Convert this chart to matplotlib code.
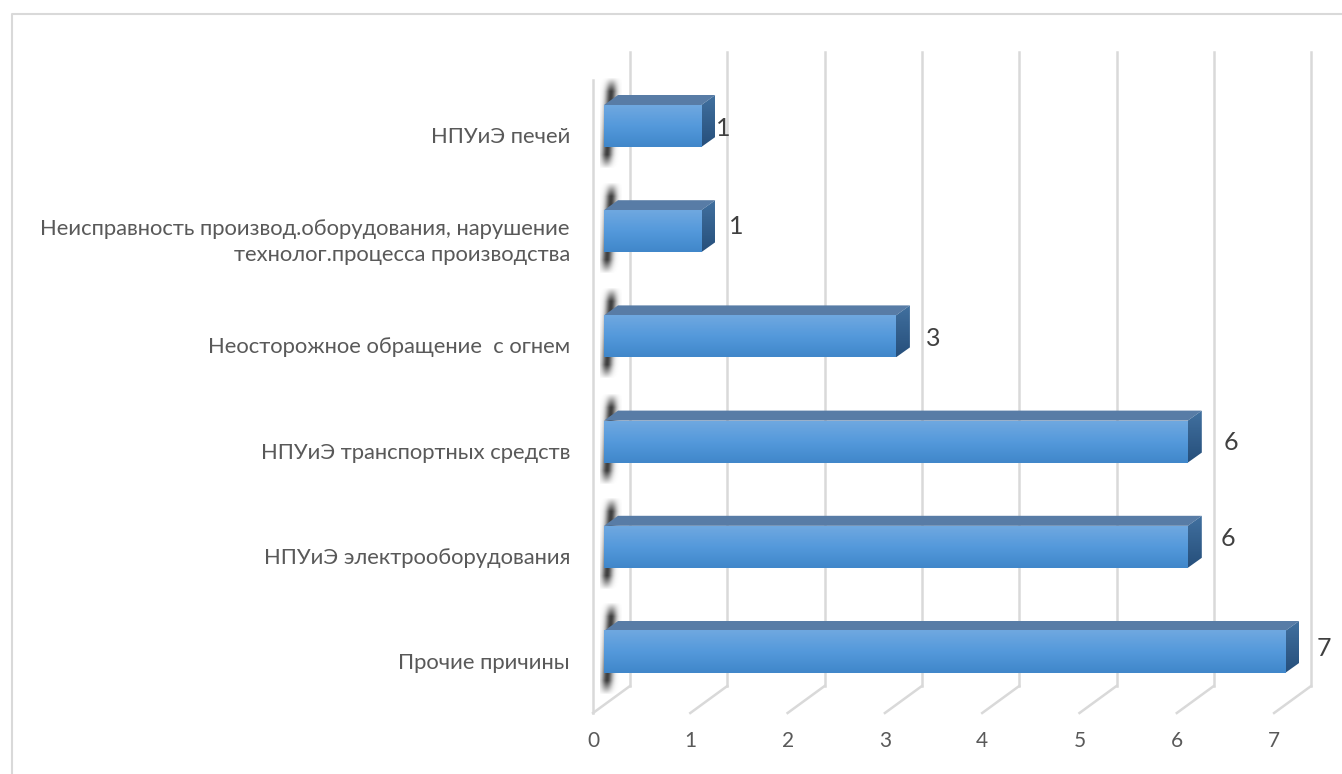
import numpy as np
import matplotlib.pyplot as plt
from matplotlib.colors import LinearSegmentedColormap
from matplotlib.patches import Polygon
from matplotlib.lines import Line2D

plt.rcParams['font.family'] = ['Lato', 'Open Sans', 'DejaVu Sans']

# Данные
categories = ['Прочие причины',
              'НПУиЭ электрооборудования',
              'НПУиЭ транспортных средств',
              'Неосторожное обращение  с огнем',
              'Неисправность производ.оборудования, нарушение\nтехнолог.процесса производства',
              'НПУиЭ печей']
values = [7, 6, 6, 3, 1, 1]
x_ticks = [0, 1, 2, 3, 4, 5, 6, 7]

W, H = 1342, 774
fig = plt.figure(figsize=(W / 100, H / 100), dpi=100)
ax = fig.add_axes([0, 0, 1, 1])
ax.axis('off')

# Масштаб: пикселей на единицу
sx, sy = 97.3, 105.2
x0_px, y0_px = 604, 652
xlim = (-x0_px / sx, (W - x0_px) / sx)
ylim = (-(H - y0_px) / sy, y0_px / sy)

# глубина 3D и положение стенок
dx, dy = 14 / sx, 10 / sy
back_dx = 26 / sx
front_dx = -11 / sx
y_back_top = (y0_px - 52) / sy
y_side_top = (y0_px - 80) / sy
y_back_bottom = (y0_px - 686) / sy
y_front_bottom = (y0_px - 713) / sy
bar_h = 42 / sy

grid_color = '#D9D9D9'
cm_front = LinearSegmentedColormap.from_list('front', ['#6FA8E0', '#5499DB', '#4087CA'])
cm_side = LinearSegmentedColormap.from_list('side', ['#41709F', '#264F7B'])
grad = np.linspace(0, 1, 64).reshape(-1, 1)

# мягкая тень на стенке (сверху вправо, снизу влево)
sh_y, sh_x = np.mgrid[-1:1:100j, -1:1:40j]
sh_center = -0.175 - 0.275 * sh_y
sh_alpha = np.exp(-((sh_x - sh_center) / 0.5) ** 2) * np.clip((1 - np.abs(sh_y)) / 0.3, 0, 1)
shadow = np.zeros(sh_x.shape + (4,))
shadow[..., :3] = 0.25
shadow[..., 3] = sh_alpha

# рамка
fig.add_artist(Line2D([12 / W, 12 / W, 1], [0, 1 - 14 / H, 1 - 14 / H], color='#D9D9D9', lw=1.5))

# сетка
for t in x_ticks:
    ax.plot([t + back_dx, t + back_dx], [y_back_bottom, y_back_top], color=grid_color, lw=1.8, zorder=1)
    ax.plot([t + back_dx, t + front_dx], [y_back_bottom, y_front_bottom], color=grid_color, lw=1.8, zorder=1)
    ax.text(t + front_dx, (y0_px - 741) / sy, str(t), ha='center', va='center', fontsize=15, color='#595959')
ax.plot([front_dx, front_dx], [y_front_bottom, y_side_top], color=grid_color, lw=1.8, zorder=1)

# столбцы
for i, (cat, v) in enumerate(zip(categories, values)):
    bottom, top = i - bar_h / 2, i + bar_h / 2

    # тень
    ax.imshow(shadow, aspect='auto', zorder=2, origin='upper',
              extent=(-4 / sx, 18 / sx, bottom - 22 / sy, top + 28 / sy))

    # верхняя грань
    ax.add_patch(Polygon([(0, top), (dx, top + dy), (v + dx, top + dy), (v, top)],
                         facecolor='#587CA6', edgecolor='none', zorder=3))

    # боковая грань
    side = Polygon([(v, bottom), (v + dx, bottom + dy), (v + dx, top + dy), (v, top)],
                   facecolor='none', edgecolor='none', zorder=3)
    ax.add_patch(side)
    im = ax.imshow(grad, cmap=cm_side, aspect='auto', zorder=3,
                   extent=(v, v + dx, bottom, top + dy), origin='upper')
    im.set_clip_path(side)

    # передняя грань
    ax.imshow(grad, cmap=cm_front, aspect='auto', zorder=4,
              extent=(0, v, bottom, top), origin='upper')

    # подпись категории
    ax.text(-34 / sx, i - 11 / sy, cat, ha='right', va='center', fontsize=15.8,
            color='#595959', linespacing=1.4)

# подписи значений
label_dx = [39, 40, 43, 37, 35, 22]
label_dy = [3, 8, -1, -2, 5, -3]
for i, v in enumerate(values):
    ax.text(v + label_dx[i] / sx, i + label_dy[i] / sy, str(v), ha='center', va='center',
            fontsize=18, color='#404040', zorder=5)

ax.set_xlim(xlim)
ax.set_ylim(ylim)
fig.savefig('out.png', dpi=100, facecolor='white')
